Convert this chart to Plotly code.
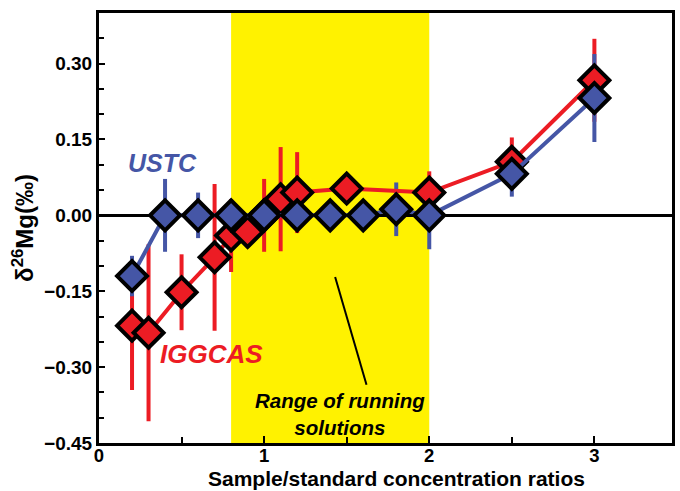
import plotly.graph_objects as go

FONT = "Arial, Liberation Sans, sans-serif"
RED = "#EC1C24"
BLUE = "#4556A6"
YELLOW = "#FFF200"

# USTC series
ustc_ratio = [0.2, 0.4, 0.6, 0.8, 1.0, 1.2, 1.4, 1.6, 1.8, 2.0, 2.5, 3.0]
ustc_d26 = [-0.12, 0.00, 0.00, 0.00, 0.00, 0.00, 0.00, 0.00, 0.012, 0.00, 0.082, 0.232]
ustc_err = [0.04, 0.072, 0.045, 0.02, 0.02, 0.02, 0.02, 0.02, 0.053, 0.067, 0.045, 0.087]

# IGGCAS series
iggcas_ratio = [0.2, 0.3, 0.5, 0.7, 0.8, 0.9, 1.0, 1.1, 1.2, 1.5, 2.0, 2.5, 3.0]
iggcas_d26 = [-0.218, -0.232, -0.152, -0.083, -0.04, -0.033, 0.0, 0.032, 0.045, 0.053, 0.045, 0.106, 0.267]
iggcas_err = [0.127, 0.175, 0.075, 0.145, 0.072, 0.03, 0.072, 0.103, 0.08, 0.02, 0.042, 0.048, 0.082]

# running-solution range
run_lo, run_hi = 0.8, 2.0

x_ticks = [0, 1, 2, 3]
y_ticks = [-0.45, -0.30, -0.15, 0.00, 0.15, 0.30]

fig = go.Figure()

# error bars (under all markers)
fig.add_trace(go.Scatter(
    x=iggcas_ratio, y=iggcas_d26, mode="none",
    error_y=dict(type="data", array=iggcas_err, color=RED, thickness=4, width=0),
    showlegend=False, hoverinfo="skip"))
fig.add_trace(go.Scatter(
    x=ustc_ratio, y=ustc_d26, mode="none",
    error_y=dict(type="data", array=ustc_err, color=BLUE, thickness=4, width=0),
    showlegend=False, hoverinfo="skip"))

# lines + markers
fig.add_trace(go.Scatter(
    x=iggcas_ratio, y=iggcas_d26, mode="lines+markers", name="IGGCAS",
    line=dict(color=RED, width=4),
    marker=dict(symbol="diamond", size=23, color=RED, line=dict(color="black", width=4)),
    showlegend=False))
fig.add_trace(go.Scatter(
    x=ustc_ratio, y=ustc_d26, mode="lines+markers", name="USTC",
    line=dict(color=BLUE, width=4),
    marker=dict(symbol="diamond", size=23, color=BLUE, line=dict(color="black", width=4)),
    showlegend=False))

fig.add_shape(type="rect", xref="x", yref="paper", x0=run_lo, x1=run_hi, y0=0, y1=1,
              fillcolor=YELLOW, line=dict(width=0), layer="below")
fig.add_shape(type="line", xref="x", yref="y", x0=1.43, y0=-0.122, x1=1.62, y1=-0.335,
              line=dict(color="black", width=2))

fig.add_annotation(x=0.385, y=0.103, text="<b><i>USTC</i></b>", showarrow=False,
                   font=dict(family=FONT, size=25, color=BLUE))
fig.add_annotation(x=0.68, y=-0.275, text="<b><i>IGGCAS</i></b>", showarrow=False,
                   font=dict(family=FONT, size=26, color=RED))
fig.add_annotation(x=1.46, y=-0.392, text="<b><i>Range of running<br>solutions</i></b>",
                   showarrow=False, font=dict(family=FONT, size=20.5, color="black"))

# x-axis title as a paper-anchored annotation
fig.add_annotation(xref="paper", yref="paper", x=0.519, y=-0.1116, yanchor="bottom",
                   text="<b>Sample/standard concentration ratios</b>", showarrow=False,
                   borderpad=0, font=dict(family=FONT, size=21, color="black"))

axis_common = dict(showgrid=False, showline=True, linecolor="black", linewidth=3,
                   mirror=True, ticks="inside", tickcolor="black", tickwidth=2)
tick_font = dict(family=FONT, size=19, color="black", weight="bold")

fig.update_xaxes(range=[0, 3.47], tickvals=x_ticks, ticktext=[str(v) for v in x_ticks],
                 ticklen=7, zeroline=False, automargin=False, ticklabelstandoff=-6,
                 tickfont=dict(tick_font, size=18.5),
                 minor=dict(ticks="inside", tick0=0.5, dtick=1, ticklen=6, tickcolor="black", tickwidth=2),
                 **axis_common)
fig.update_yaxes(range=[-0.45, 0.40], tickvals=y_ticks, tickformat=".2f",
                 ticklen=6, zeroline=True, zerolinecolor="black", zerolinewidth=3,
                 tickfont=tick_font,
                 minor=dict(ticks="inside", tick0=-0.45, dtick=0.05, ticklen=5, tickcolor="black", tickwidth=2),
                 title=dict(text="<b>δ<sup>26</sup>Mg(‰)</b>",
                            font=dict(family=FONT, size=24, color="black"), standoff=4),
                 **axis_common)

fig.update_layout(width=680, height=491, margin=dict(l=99, r=5, t=13, b=48),
                  paper_bgcolor="white", plot_bgcolor="white", showlegend=False)

fig.write_html("out.html")
